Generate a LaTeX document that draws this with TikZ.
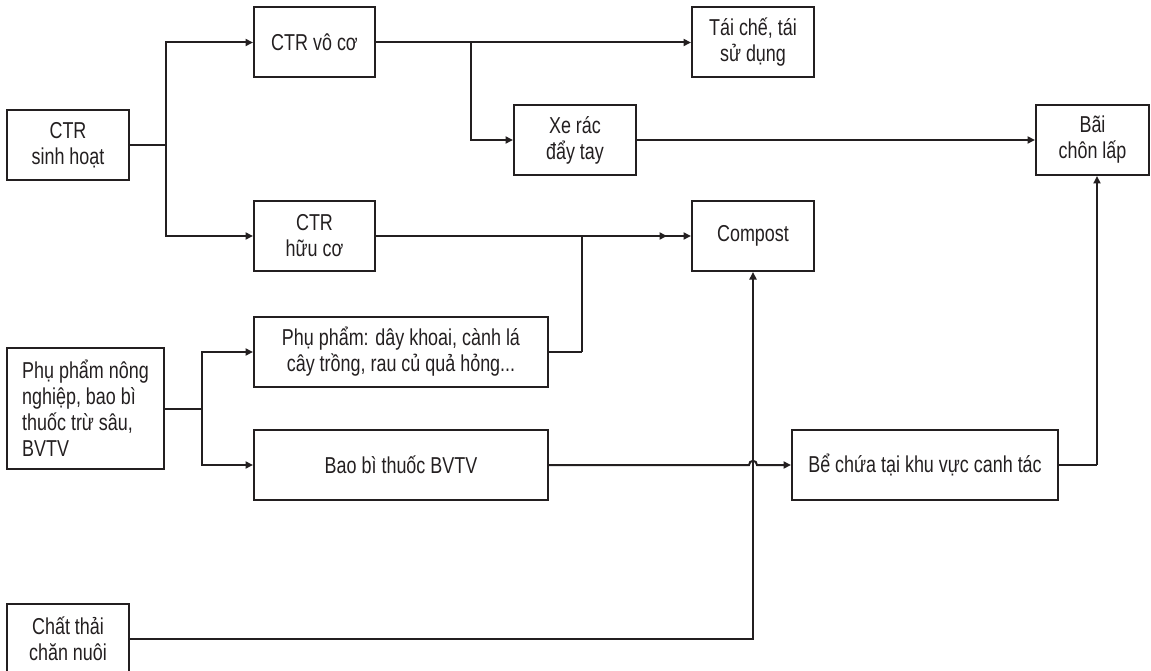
\documentclass[tikz,border=0pt]{standalone}
\usepackage{fontspec}
\setmainfont{Liberation Sans}[FakeStretch=0.78]
\usetikzlibrary{arrows.meta}
\definecolor{ink}{HTML}{231F20}
\begin{document}
\begin{tikzpicture}[x=1pt,y=-1pt,
  every node/.style={font=\fontsize{23}{26}\selectfont, text=ink},
  box/.style={draw=ink, line width=2pt, inner sep=0pt, minimum height=70pt, align=center},
  ln/.style={draw=ink, line width=2pt},
  arr/.style={ln, -{Triangle[length=7.5pt,width=7pt]}}]
\useasboundingbox (0,0) rectangle (1151,671);
% nodes
\node[box, minimum width=122pt] (sh) at (68,145) {CTR\\sinh hoạt};
\node[box, minimum width=121pt] (voco) at (314.5,42.5) {CTR vô cơ};
\node[box, minimum width=121pt] (huuco) at (314.5,236) {CTR\\hữu cơ};
\node[box, minimum width=122pt] (taiche) at (753,42.5) {Tái chế, tái\\sử dụng};
\node[box, minimum width=122pt] (xerac) at (575,140) {Xe rác\\đẩy tay};
\node[box, minimum width=122pt] (compost) at (753,236) {Compost};
\node[box, minimum width=113pt] (bai) at (1092.5,140) {Bãi\\chôn lấp};
\node[box, minimum width=157pt, minimum height=121pt, align=left] (ppnn) at (85.5,408.5) {Phụ phẩm nông\\nghiệp, bao bì\\thuốc trừ sâu,\\BVTV};
\node[box, minimum width=294pt] (dk) at (401,352) {Phụ phẩm: dây khoai, cành lá\\cây trồng, rau củ quả hỏng...};
\node[box, minimum width=294pt] (bb) at (401,465) {Bao bì thuốc BVTV};
\node[box, minimum width=266pt] (bechua) at (925,465) {Bể chứa tại khu vực canh tác};
\node[box, minimum width=122pt] (ct) at (68,639) {Chất thải\\chăn nuôi};
% junction coordinates
\coordinate (j1) at (166,145);
\coordinate (j2) at (471,42.5);
\coordinate (j3) at (582,352);
\coordinate (j4) at (202,408.5);
\coordinate (j5) at (1097,465);
\coordinate (m1) at (667,236);
\coordinate (h1) at (749,465);
\coordinate (h2) at (757,465);
\coordinate (hc1) at (749,459.5);
\coordinate (hc2) at (757,459.5);
% connectors
\draw[ln] (sh.east) -- (j1);
\draw[arr] (j1) |- (voco.west);
\draw[arr] (j1) |- (huuco.west);
\draw[arr] (voco.east) -- (taiche.west);
\draw[arr] (j2) |- (xerac.west);
\draw[arr] (xerac.east) -- (bai.west);
\draw[arr] (huuco.east) -- (m1);
\draw[ln] (dk.east) -- (j3);
\draw[arr] (j3) |- (compost.west);
\draw[ln] (ppnn.east) -- (j4);
\draw[arr] (j4) |- (dk.west);
\draw[arr] (j4) |- (bb.west);
\draw[arr] (bb.east) -- (h1) .. controls (hc1) and (hc2) .. (h2) -- (bechua.west);
\draw[arr] (ct.east) -| (compost.south);
\draw[ln] (bechua.east) -- (j5);
\draw[arr] (j5) -- (j5 |- bai.south);
\end{tikzpicture}
\end{document}
